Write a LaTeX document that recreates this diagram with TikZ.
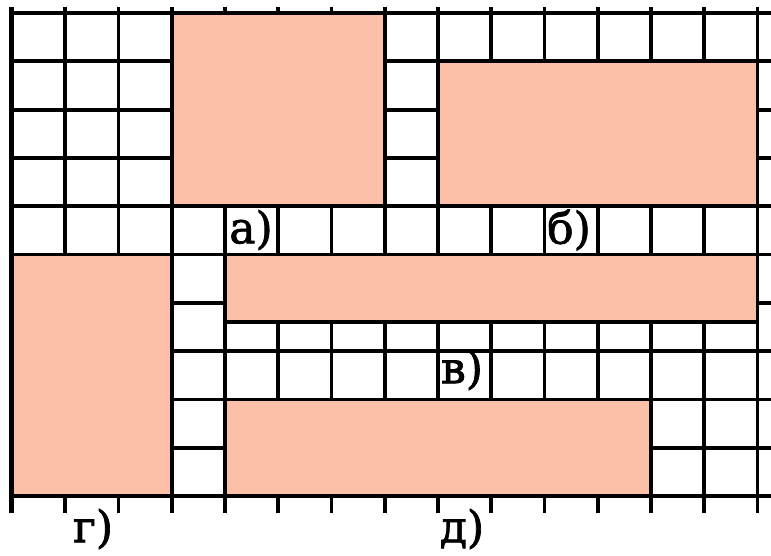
\documentclass[tikz,border=0pt]{standalone}
\usepackage{fontspec}
\setmainfont{DejaVu Serif}[FakeBold=1.6]
\definecolor{peach}{RGB}{251,192,167}
\begin{document}
\begin{tikzpicture}[x=1pt,y=-1pt,
  gridline/.style={line width=3.8pt,black},
  piece/.style={fill=peach,draw=black,line width=3.8pt},
  lbl/.style={inner sep=0pt,font=\fontsize{44}{48}\selectfont}]
\useasboundingbox (0,0) rectangle (771,555);
\def\gx#1{12+53.25*#1}
\def\gy#1{13+48.3*#1}
% vertical grid lines with ticks above and below
\foreach \k in {0,...,14}{
  \draw[gridline] ({\gx{\k}},7) -- ({\gx{\k}},513);
}
\draw[line width=5pt] ({\gx{0}-0.75},7) -- ({\gx{0}-0.75},513);
% horizontal grid lines running to the right edge
\foreach \j in {0,...,10}{
  \draw[gridline] ({\gx{0}},{\gy{\j}}) -- (771,{\gy{\j}});
}
% shaded rectangles
\draw[piece] ({\gx{3}},{\gy{0}}) rectangle ({\gx{7}},{\gy{4}});
\draw[piece] ({\gx{8}},{\gy{1}}) rectangle ({\gx{14}},{\gy{4}});
\draw[piece] ({\gx{4}},{\gy{5}}) rectangle ({\gx{14}},322);
\draw[piece] ({\gx{0}},{\gy{5}}) rectangle ({\gx{3}},{\gy{10}});
\draw[piece] ({\gx{4}},{\gy{8}}) rectangle ({\gx{12}},{\gy{10}});
% labels
\node[lbl] (la) at (251,230) {а)};
\node[lbl] (lb) at (569,230) {б)};
\node[lbl] (lv) at (462,370) {в)};
\node[lbl] (lg) at (93,529) {г)};
\node[lbl] (ld) at (462,529) {д)};
\end{tikzpicture}
\end{document}
